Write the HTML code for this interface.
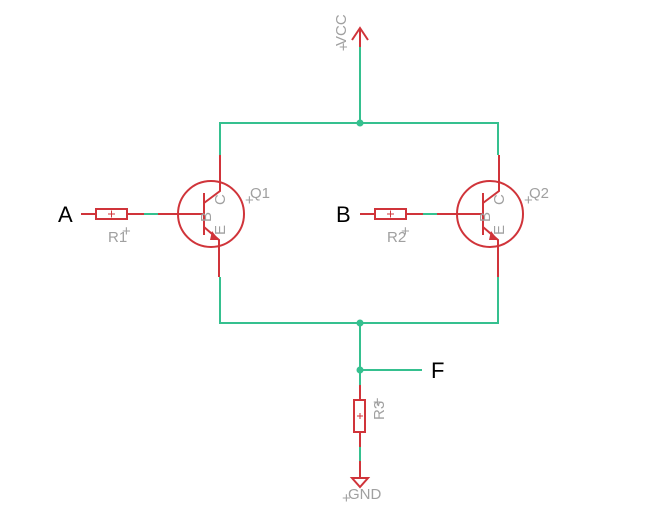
<!DOCTYPE html>
<html><head><meta charset="utf-8"><style>
html,body{margin:0;padding:0;background:#fff;width:649px;height:508px;overflow:hidden}
svg{display:block}
.r{stroke:#d0343a;fill:none;stroke-width:2}
.g{stroke:#35c08f;fill:none;stroke-width:2}
.t{font-family:"Liberation Sans",sans-serif;fill:#a0a0a0;font-size:15px}
.b{font-family:"Liberation Sans",sans-serif;fill:#000;font-size:22px}
</style></head><body>
<svg width="649" height="508" viewBox="0 0 649 508" xmlns="http://www.w3.org/2000/svg">
<path class="r" d="M360 28V47M352 40L360 28L368 40"/>
<path class="g" d="M360 47V123"/>
<text class="t" transform="translate(346,46) rotate(-90)">VCC</text>
<text class="t" x="339" y="52" font-size="12">+</text>
<path class="g" d="M220 155V123H498V155"/>
<path class="g" d="M220 277V323H498V277"/>
<path class="g" d="M360 323V385M360 370H422"/>
<circle cx="360" cy="123" r="3.5" fill="#35c08f"/>
<circle cx="360" cy="323" r="3.5" fill="#35c08f"/>
<circle cx="360" cy="370" r="3.5" fill="#35c08f"/>
<text class="b" x="431" y="378">F</text>
<g>
<path class="r" d="M220 155V191L204 203M204 227L219 240V277"/>
<path class="r" d="M204 193V235" stroke-width="3"/>
<path d="M212 231L219 240L210 240Z" fill="#d0343a"/>
<circle class="r" cx="211" cy="214" r="33"/>
<path class="r" d="M81 214H96M127 214H144M158 214H204"/>
<path class="g" d="M144 214H158"/>
<rect class="r" x="96" y="209" width="31" height="10"/>
<path d="M108 214H115M111.5 210.5V217.5" stroke="#d0343a" stroke-width="1"/>
<text class="t" x="108" y="242">R1</text><text class="t" x="122" y="236" font-size="11">+</text>
<text class="t" x="250" y="198">Q1</text><text class="t" x="245" y="205" font-size="12">+</text>
<text class="t" font-size="11" transform="translate(211,222) rotate(-90)">B</text>
<text class="t" font-size="11" transform="translate(225,205) rotate(-90)">C</text>
<text class="t" font-size="11" transform="translate(225,235) rotate(-90)">E</text>
<text class="b" x="58" y="222">A</text>
</g>
<g transform="translate(279,0)">
<path class="r" d="M220 155V191L204 203M204 227L219 240V277"/>
<path class="r" d="M204 193V235" stroke-width="3"/>
<path d="M212 231L219 240L210 240Z" fill="#d0343a"/>
<circle class="r" cx="211" cy="214" r="33"/>
<path class="r" d="M81 214H96M127 214H144M158 214H204"/>
<path class="g" d="M144 214H158"/>
<rect class="r" x="96" y="209" width="31" height="10"/>
<path d="M108 214H115M111.5 210.5V217.5" stroke="#d0343a" stroke-width="1"/>
<text class="t" x="108" y="242">R2</text><text class="t" x="122" y="236" font-size="11">+</text>
<text class="t" x="250" y="198">Q2</text><text class="t" x="245" y="205" font-size="12">+</text>
<text class="t" font-size="11" transform="translate(211,222) rotate(-90)">B</text>
<text class="t" font-size="11" transform="translate(225,205) rotate(-90)">C</text>
<text class="t" font-size="11" transform="translate(225,235) rotate(-90)">E</text>
</g>
<text class="b" x="336" y="222">B</text>
<path class="r" d="M360 385V400M360 432V447M360 461V478"/>
<path class="g" d="M360 447V461"/>
<rect class="r" x="354" y="400" width="11" height="32"/>
<path d="M357 416H363M360 413V419" stroke="#d0343a" stroke-width="1"/>
<text class="t" transform="translate(384,420) rotate(-90)">R3</text>
<text class="t" x="373" y="407" font-size="11">+</text>
<path class="r" d="M352 478H368L360 487Z"/>
<text class="t" x="348" y="499">GND</text>
<text class="t" x="342" y="503" font-size="12">+</text>
</svg>
</body></html>
